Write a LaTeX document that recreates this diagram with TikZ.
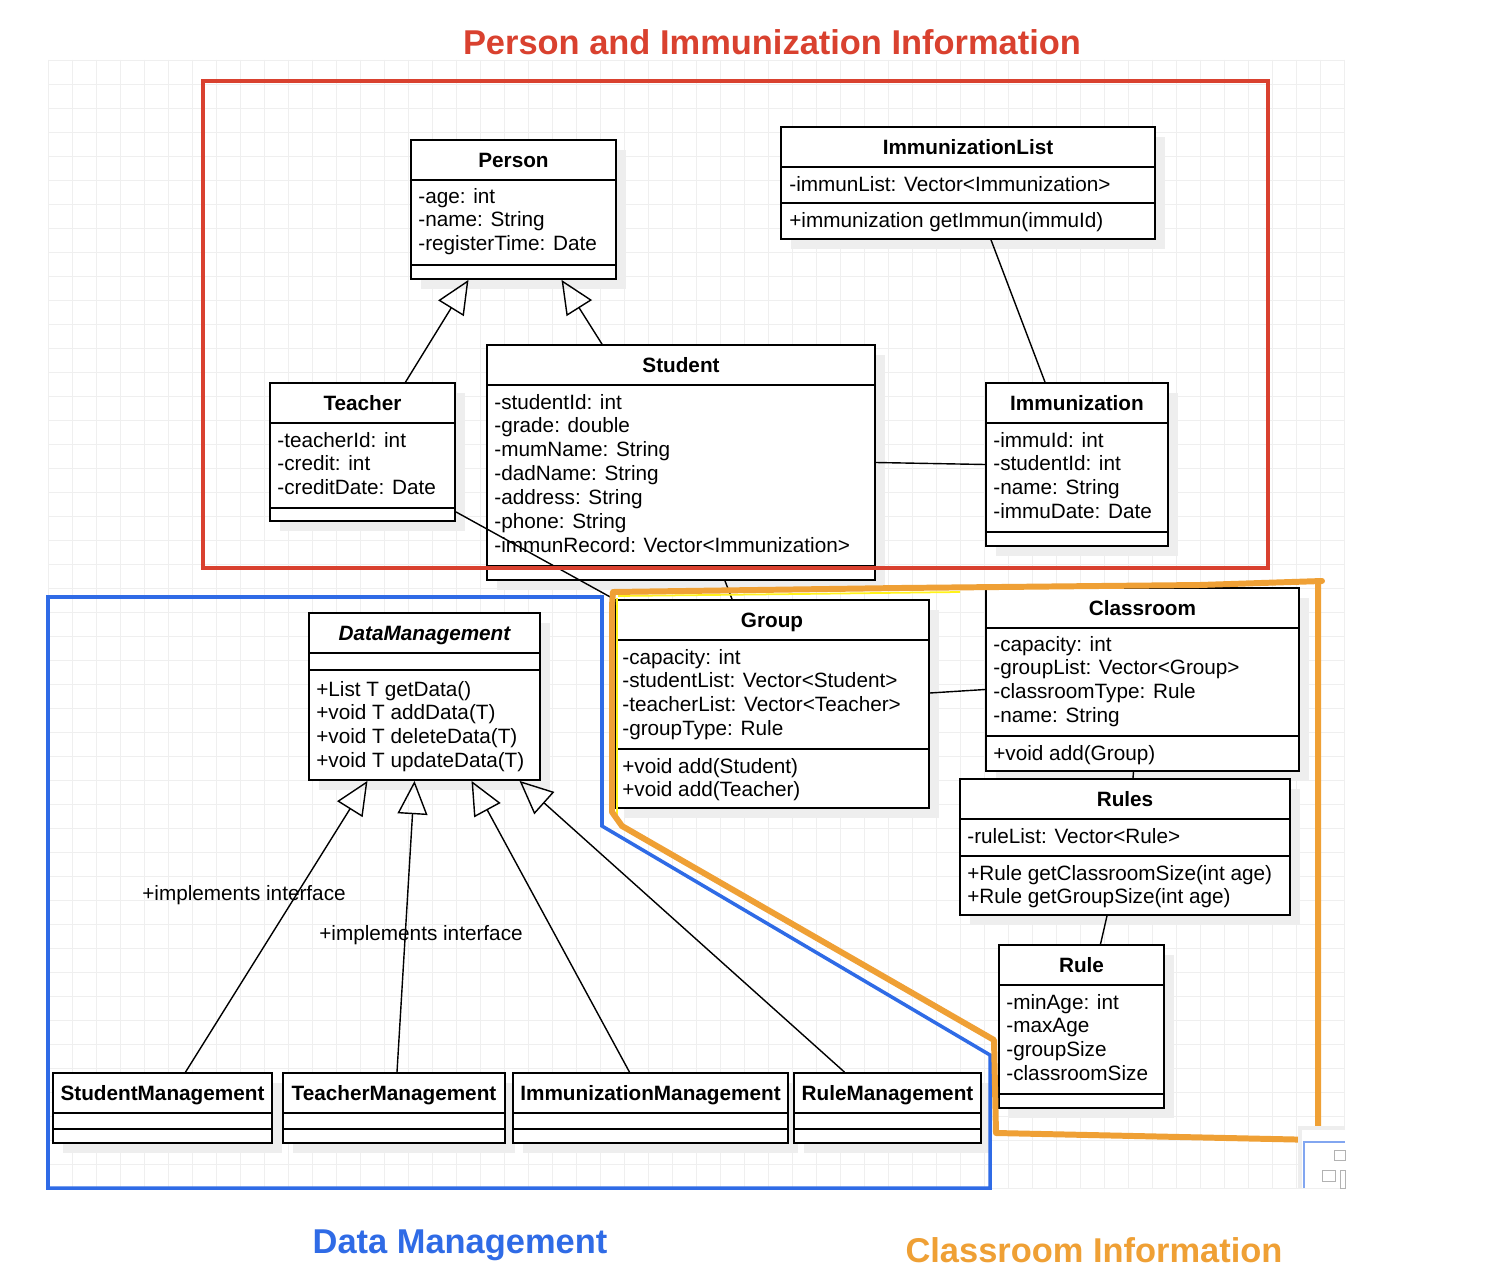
\documentclass[tikz,border=0pt]{standalone}
\usepackage{fontspec}
\setmainfont{Liberation Sans}
\usetikzlibrary{arrows.meta,calc,fit,positioning}

\definecolor{infored}{HTML}{D9412F}
\definecolor{datablue}{HTML}{2F6BE6}
\definecolor{roomorange}{HTML}{EFA035}
\definecolor{shadowgray}{HTML}{EEEEEE}
\definecolor{gridgray}{HTML}{EFEFEF}

\tikzset{
  classframe/.style={draw=black, line width=1pt, fill=white, inner sep=0pt},
  classline/.style={line width=1pt},
  classtitle/.style={font=\fontsize{11.8}{13.6}\selectfont\bfseries, inner sep=0pt, text height=8.4pt, text depth=0pt},
  classtext/.style={font=\fontsize{11.8}{13.6}\selectfont, align=left, anchor=north west, inner sep=0pt},
  assoc/.style={line width=0.8pt},
  inherit/.style={line width=0.8pt, -{Triangle[open, length=19pt, width=17pt, line width=0.8pt]}},
  regiontitle/.style={font=\fontsize{19.6}{23}\selectfont\bfseries, inner sep=0pt},
  gridline/.style={draw=gridgray, line width=0.4pt},
}

% name, x1, y1, x2, y2, title, first and second separator
\newcommand{\umlclass}[8]{%
  \fill[shadowgray] (#2+10,#3+10) rectangle (#4+10,#5+10);
  \node[classframe, fit={(#2,#3) (#4,#5)}] (#1) {};
  \node[classtitle] (#1-title) at ({(#2+#4)/2},{(#3+#7)/2}) {#6};
  \draw[classline] (#2,#7) -- (#4,#7);
  \draw[classline] (#2,#8) -- (#4,#8);
}

\begin{document}
\begin{tikzpicture}[x=0.02cm,y=-0.02cm]
  \useasboundingbox[fill=white] (0,0) rectangle (1505,1284);

  % background grid
  \foreach \gx in {48,72,...,1344}
    \draw[gridline] (\gx,60) -- (\gx,1188);
  \foreach \gy in {60,84,...,1188}
    \draw[gridline] (48,\gy) -- (1345,\gy);

  % classes
  \umlclass{person}{411}{140}{616}{279}{Person}{180}{265}
  \node[classtext] (person-attr) at (418,186) {\strut-age: int\\\strut-name: String\\\strut-registerTime: Date};

  \umlclass{immlist}{781}{127}{1155}{239}{ImmunizationList}{167}{203}
  \node[classtext] (immlist-attr) at (789,174) {\strut-immunList: Vector<Immunization>};
  \node[classtext] (immlist-ops) at (789,210) {\strut+immunization getImmun(immuId)};

  \umlclass{teacher}{270}{383}{455}{521}{Teacher}{423}{508}
  \node[classtext] (teacher-attr) at (277,430) {\strut-teacherId: int\\\strut-credit: int\\\strut-creditDate: Date};

  \umlclass{student}{487}{345}{875}{580}{Student}{385}{566}
  \node[classtext] (student-attr) at (494,392) {\strut-studentId: int\\\strut-grade: double\\\strut-mumName: String\\\strut-dadName: String\\\strut-address: String\\\strut-phone: String\\\strut-immunRecord: Vector<Immunization>};

  \umlclass{immunization}{986}{383}{1168}{546}{Immunization}{423}{532}
  \node[classtext] (immunization-attr) at (993,430) {\strut-immuId: int\\\strut-studentId: int\\\strut-name: String\\\strut-immuDate: Date};

  \umlclass{datamgmt}{309}{613}{540}{780}{\itshape DataManagement}{653}{670}
  \node[classtext] (datamgmt-ops) at (316,679) {\strut+List T getData()\\\strut+void T addData(T)\\\strut+void T deleteData(T)\\\strut+void T updateData(T)};

  \umlclass{group}{615}{600}{929}{808}{Group}{640}{749}
  \node[classtext] (group-attr) at (622,647) {\strut-capacity: int\\\strut-studentList: Vector<Student>\\\strut-teacherList: Vector<Teacher>\\\strut-groupType: Rule};
  \node[classtext] (group-ops) at (622,756) {\strut+void add(Student)\\\strut+void add(Teacher)};

  \umlclass{classroom}{986}{588}{1299}{771}{Classroom}{628}{736}
  \node[classtext] (classroom-attr) at (993,634) {\strut-capacity: int\\\strut-groupList: Vector<Group>\\\strut-classroomType: Rule\\\strut-name: String};
  \node[classtext] (classroom-ops) at (993,743) {\strut+void add(Group)};

  \umlclass{rules}{960}{779}{1290}{915}{Rules}{819}{856}
  \node[classtext] (rules-attr) at (967,826) {\strut-ruleList: Vector<Rule>};
  \node[classtext] (rules-ops) at (967,863) {\strut+Rule getClassroomSize(int age)\\\strut+Rule getGroupSize(int age)};

  \umlclass{rule}{999}{945}{1164}{1108}{Rule}{985}{1094}
  \node[classtext] (rule-attr) at (1006,992) {\strut-minAge: int\\\strut-maxAge\\\strut-groupSize\\\strut-classroomSize};

  \umlclass{studentmgmt}{53}{1073}{272}{1143}{StudentManagement}{1113}{1129}
  \umlclass{teachermgmt}{283}{1073}{505}{1143}{TeacherManagement}{1113}{1129}
  \umlclass{immunmgmt}{513}{1073}{788}{1143}{ImmunizationManagement}{1113}{1129}
  \umlclass{rulemgmt}{794}{1073}{981}{1143}{RuleManagement}{1113}{1129}

  % connectors
  \draw[inherit] ($(teacher.north)+(43,0)$) -- ($(person.south)+(-45,0)$);
  \draw[inherit] ($(student.north)+(-79,0)$) -- ($(person.south)+(48,0)$);
  \draw[assoc] ($(immlist.south)+(23,0)$) -- ($(immunization.north)+(-32,0)$);
  \draw[assoc] (student.east) -- (immunization.west);
  \draw[assoc] ($(teacher.south east)+(0,-10)$) -- (group.north west);
  \draw[assoc] ($(student.south)+(44,0)$) -- ($(group.north)+(-40,0)$);
  \draw[assoc] ($(group.east)+(0,-11)$) -- ($(classroom.west)+(0,10)$);
  \draw[assoc] ($(classroom.south)+(-9,0)$) -- ($(rules.north)+(8,0)$);
  \draw[assoc] ($(rules.south)+(-18,0)$) -- ($(rule.north)+(19,0)$);

  \draw[inherit] ($(studentmgmt.north)+(23,0)$) -- ($(datamgmt.south)+(-57,0)$);
  \draw[inherit] ($(teachermgmt.north)+(3,0)$) -- ($(datamgmt.south)+(-10,0)$);
  \draw[inherit] ($(immunmgmt.north)+(-21,0)$) -- ($(datamgmt.south)+(47,0)$);
  \draw[inherit] ($(rulemgmt.north)+(-43,0)$) -- ($(datamgmt.south)+(95,0)$);

  \node[classtext, anchor=center] (implements-a) at (244,895) {+implements interface};
  \node[classtext, anchor=center] (implements-b) at (421,935) {+implements interface};

  % region frames
  \draw[infored, line width=2pt] (203,81) rectangle (1268,568);
  \draw[datablue, line width=2pt, line join=miter]
    (48,597) -- (602,597) -- (602,826) -- (990,1055) -- (990,1188) -- (48,1188) -- cycle;
  \draw[yellow!90!white, line width=1pt] (618,596) -- (800,594) -- (960,592);
  \draw[yellow!90!white, line width=1pt] (617,598) -- (617,820);
  \draw[roomorange, line width=3.4pt, line join=round, line cap=round]
    (1322,581) -- (1200,585) -- (900,588) -- (613,592) -- (612,605) -- (612,812)
    -- (622,826) -- (994,1040) -- (996,1133) -- (1318,1140) -- (1318,581);

  % minimap corner
  \fill[shadowgray] (1298,1126) rectangle (1345,1188);
  \fill[white] (1302,1130) rectangle (1345,1188);
  \draw[datablue!60, line width=0.6pt] (1304,1188) -- (1304,1142) -- (1345,1142);
  \draw[gray!60, line width=0.3pt] (1334,1150) rectangle (1345,1160);
  \draw[gray!60, line width=0.3pt] (1322,1170) rectangle (1335,1181);
  \draw[gray!60, line width=0.3pt] (1340,1170) rectangle (1345,1188);

  % region titles
  \node[regiontitle, text=infored] (info-title) at (772,42) {Person and Immunization Information};
  \node[regiontitle, text=datablue] (data-title) at (460,1245) {Data Management};
  \node[regiontitle, text=roomorange] (room-title) at (1094,1250) {Classroom Information};
\end{tikzpicture}
\end{document}
